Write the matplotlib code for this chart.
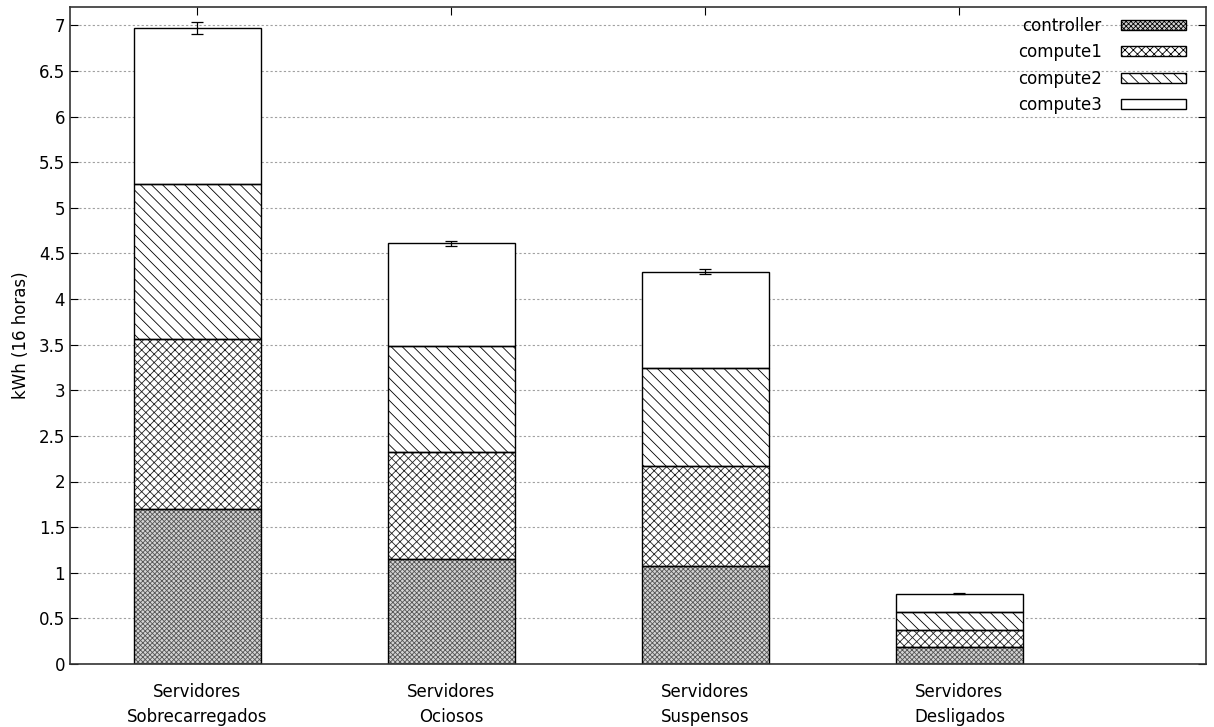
import matplotlib
matplotlib.use("Agg")
import matplotlib.pyplot as plt
from matplotlib.patches import Patch
import numpy as np

categories = ["Servidores\nSobrecarregados", "Servidores\nOciosos",
              "Servidores\nSuspensos", "Servidores\nDesligados"]
series = ["controller", "compute1", "compute2", "compute3"]
controller = [1.70, 1.15, 1.07, 0.19]
compute1 = [1.86, 1.17, 1.10, 0.18]
compute2 = [1.70, 1.16, 1.07, 0.20]
compute3 = [1.71, 1.13, 1.06, 0.20]
total_err = [0.07, 0.03, 0.03, 0.005]

hatches = ["xxxxxxx", "xxxx", "\\\\\\", ""]
faces = ["#d4d4d4", "white", "white", "white"]
hatch_colors = ["#555555", "#222222", "black", "black"]

plt.rcParams["hatch.linewidth"] = 0.6
plt.rcParams["font.family"] = "DejaVu Sans"

fig = plt.figure(figsize=(12.14, 7.27), dpi=100)
ax = fig.add_axes([70 / 1214, 63 / 727, 1136 / 1214, 657 / 727])

x = np.arange(len(categories))
bottom = np.zeros(len(categories))
for name, vals, h, fc, hc in zip(series, [controller, compute1, compute2, compute3],
                                 hatches, faces, hatch_colors):
    # hatch fill first (its colour comes from edgecolor), then a black outline
    ax.bar(x, vals, width=0.5, bottom=bottom, color=fc, edgecolor=hc,
           hatch=h, linewidth=0, zorder=2)
    ax.bar(x, vals, width=0.5, bottom=bottom, fill=False, edgecolor="black",
           linewidth=1.0, zorder=2.5)
    bottom += np.array(vals)

ax.errorbar(x, bottom, yerr=total_err, fmt="none", ecolor="black",
            elinewidth=0.9, capsize=4, capthick=0.9, zorder=3)

ax.set_xlim(-0.5, 3.97)
ax.set_ylim(0, 7.2)
yt = np.arange(0, 7.01, 0.5)
ax.set_yticks(yt)
ax.set_yticklabels([f"{v:g}" for v in yt])
ax.set_xticks(x)
ax.set_xticklabels(categories, fontsize=12, linespacing=1.45)
ax.tick_params(axis="y", direction="in", right=True, length=6, labelsize=12)
ax.tick_params(axis="x", direction="in", top=True, bottom=False, length=6, pad=14)
ax.yaxis.grid(True, linestyle=(0, (2, 2)), color="#a0a0a0", linewidth=0.8, zorder=0)
ax.set_axisbelow(True)
ax.set_ylabel("kWh (16 horas)", fontsize=12, labelpad=6)
for s in ax.spines.values():
    s.set_linewidth(1.2)
    s.set_color("#333333")

leg_handles = [Patch(facecolor=fc, edgecolor="black", hatch=h, linewidth=1.0)
               for fc, h in zip(faces, hatches)]
ax.legend(leg_handles, series, loc="upper right", bbox_to_anchor=(1 - 10 / 1136, 1),
          markerfirst=False, frameon=False, fontsize=12,
          handlelength=3.9, handleheight=0.55, labelspacing=0.5,
          borderaxespad=0.2, handletextpad=1.15)

fig.savefig("out.png", dpi=100)
